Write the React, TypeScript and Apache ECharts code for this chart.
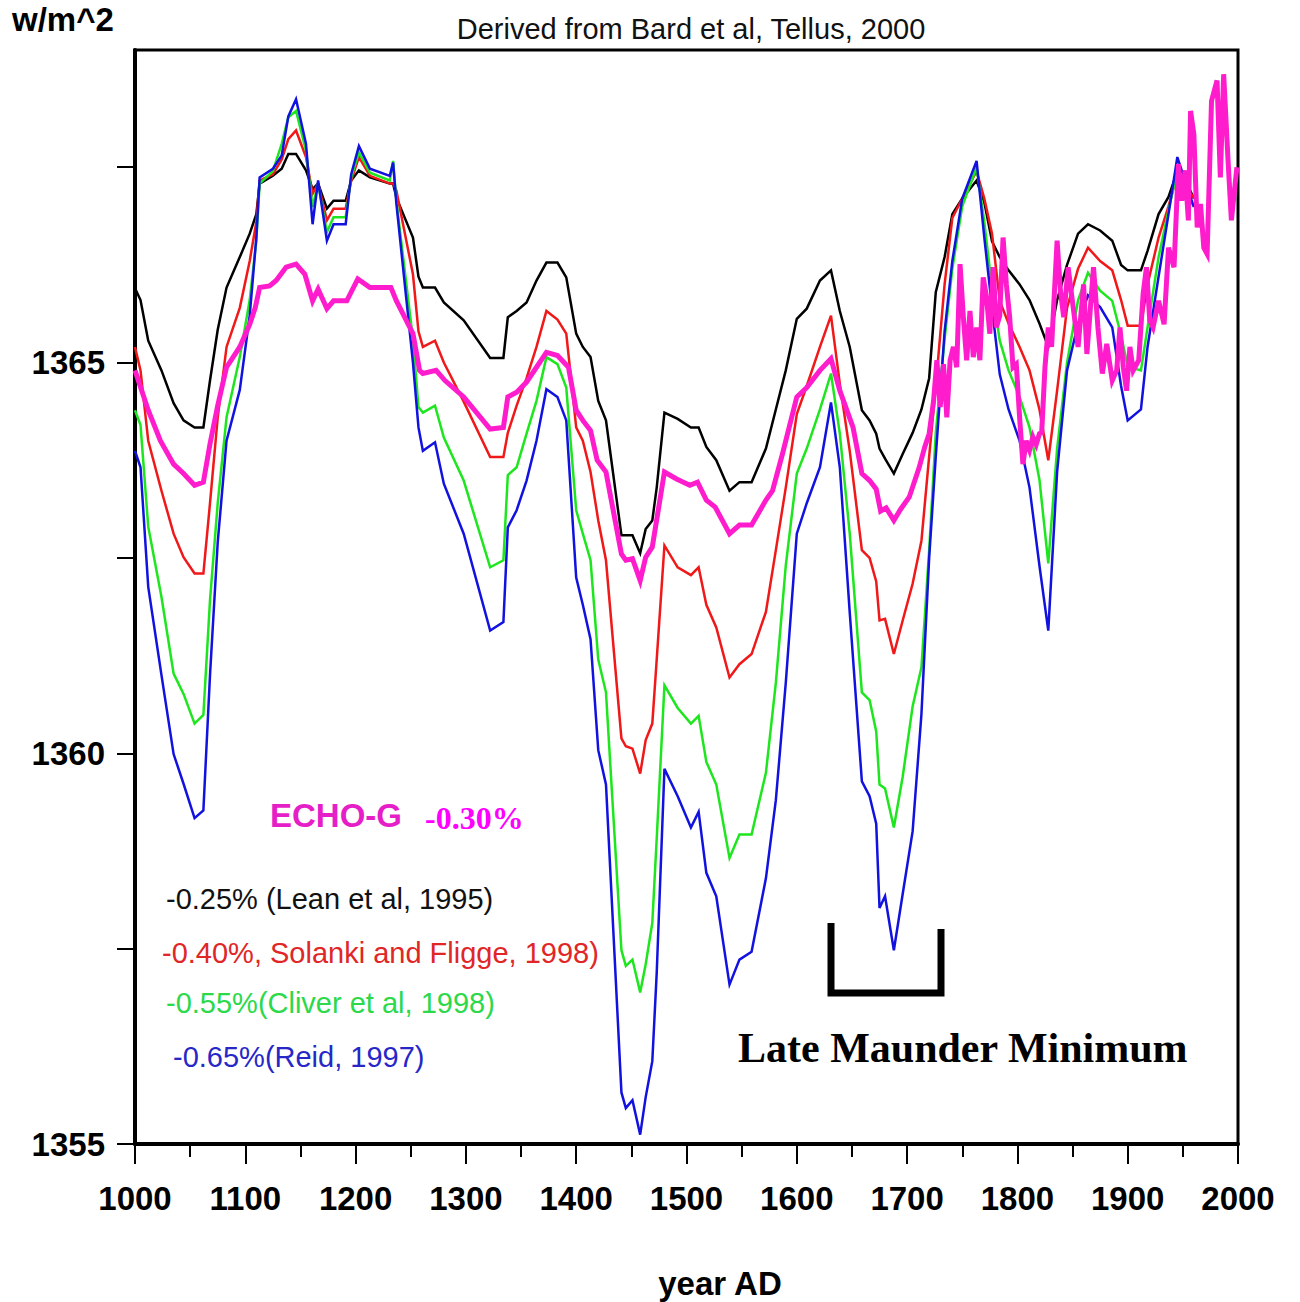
import React, { useEffect, useRef } from "react";
import * as echarts from "echarts";

// ---- Data ----
const proxyYears = [
  1000, 1005, 1012, 1024, 1035, 1044, 1054, 1062, 1068, 1075,
  1083, 1095, 1104, 1110, 1113, 1125, 1133, 1139, 1146, 1155,
  1161, 1166, 1174, 1180, 1191, 1196, 1203, 1213, 1231, 1234,
  1237, 1252, 1257, 1261, 1272, 1280, 1298, 1322, 1334, 1338,
  1346, 1355, 1364, 1373, 1383, 1391, 1400, 1406, 1413, 1420,
  1427, 1441, 1445, 1451, 1458, 1463, 1469, 1473, 1480, 1492,
  1504, 1511, 1518, 1527, 1539, 1548, 1559, 1572, 1581, 1590,
  1600, 1609, 1621, 1631, 1639, 1648, 1659, 1666, 1672, 1675,
  1680, 1688, 1696, 1705, 1713, 1720, 1726, 1734, 1741, 1750,
  1763, 1770, 1777, 1784, 1792, 1802, 1811, 1820, 1828, 1836,
  1845, 1855, 1864, 1875, 1886, 1894, 1900, 1912, 1918, 1928,
  1937, 1945, 1955, 1960,
];

// -0.25% (Lean et al, 1995) - black
const leanValues = [
  1365.95, 1365.8, 1365.28, 1364.9, 1364.48, 1364.26, 1364.17, 1364.17, 1364.77, 1365.42,
  1365.96, 1366.35, 1366.65, 1366.9, 1367.29, 1367.39, 1367.48, 1367.67, 1367.67, 1367.46,
  1367.22, 1367.29, 1366.97, 1367.07, 1367.07, 1367.33, 1367.46, 1367.37, 1367.29, 1367.29,
  1367.11, 1366.6, 1366.1, 1365.96, 1365.96, 1365.77, 1365.54, 1365.06, 1365.06, 1365.58,
  1365.66, 1365.77, 1366.05, 1366.28, 1366.28, 1366.09, 1365.37, 1365.2, 1365.07, 1364.51,
  1364.26, 1362.79, 1362.79, 1362.79, 1362.56, 1362.87, 1362.98, 1363.4, 1364.36, 1364.28,
  1364.17, 1364.17, 1363.92, 1363.75, 1363.36, 1363.47, 1363.47, 1363.9, 1364.4, 1364.9,
  1365.56, 1365.69, 1366.05, 1366.18, 1365.66, 1365.2, 1364.39, 1364.26, 1364.09, 1363.9,
  1363.77, 1363.58, 1363.83, 1364.1, 1364.4, 1364.8, 1365.9, 1366.35, 1366.9, 1367.1,
  1367.33, 1367.05, 1366.55, 1366.35, 1366.18, 1366.0, 1365.8, 1365.5, 1365.2, 1365.8,
  1366.25, 1366.65, 1366.77, 1366.69, 1366.56, 1366.25, 1366.18, 1366.18, 1366.43, 1366.9,
  1367.12, 1367.45, 1367.25, 1367.1,
];

// -0.40% (Solanki and Fligge, 1998) - red
const solankiValues = [
  1365.2, 1364.9, 1364.0, 1363.36, 1362.81, 1362.51, 1362.3, 1362.3, 1363.2, 1364.3,
  1365.2, 1365.7, 1366.3, 1366.8, 1367.33, 1367.41, 1367.6, 1367.86, 1367.97, 1367.63,
  1367.16, 1367.29, 1366.82, 1366.97, 1366.97, 1367.33, 1367.63, 1367.39, 1367.29, 1367.29,
  1367.2, 1366.13, 1365.4, 1365.2, 1365.28, 1365.0, 1364.5, 1363.79, 1363.79, 1364.1,
  1364.45, 1364.8, 1365.2, 1365.66, 1365.55, 1365.37, 1364.17, 1364.0, 1363.6, 1362.98,
  1362.47, 1360.19, 1360.09, 1360.06, 1359.74, 1360.17, 1360.38, 1361.2, 1362.66, 1362.38,
  1362.28, 1362.38, 1361.9, 1361.61, 1360.97, 1361.14, 1361.27, 1361.81, 1362.6, 1363.4,
  1364.34, 1364.7, 1365.2, 1365.6, 1364.73, 1363.87, 1362.6, 1362.5, 1362.2, 1361.7,
  1361.72, 1361.27, 1361.7, 1362.17, 1362.72, 1363.8, 1364.7, 1366.0, 1366.85, 1367.1,
  1367.45, 1367.1, 1366.65, 1365.79, 1365.5, 1365.2, 1364.9, 1364.4, 1363.75, 1364.64,
  1365.7, 1366.2, 1366.47, 1366.3, 1366.18, 1365.8, 1365.47, 1365.47, 1366.0, 1366.6,
  1367.0, 1367.41, 1367.2, 1367.11,
];

// -0.55% (Cliver et al, 1998) - green
const cliverValues = [
  1364.39, 1364.2, 1362.9, 1362.0, 1361.02, 1360.76, 1360.38, 1360.49, 1361.96, 1363.2,
  1364.3, 1365.07, 1365.8, 1366.56, 1367.29, 1367.45, 1367.8, 1368.14, 1368.22, 1367.71,
  1366.99, 1367.29, 1366.67, 1366.86, 1366.86, 1367.37, 1367.69, 1367.43, 1367.33, 1367.58,
  1367.07, 1365.3, 1364.43, 1364.36, 1364.45, 1364.04, 1363.49, 1362.38, 1362.47, 1363.56,
  1363.66, 1364.09, 1364.51, 1365.07, 1364.98, 1364.68, 1363.11, 1362.81, 1362.47, 1361.2,
  1360.78, 1357.48, 1357.28, 1357.36, 1356.94, 1357.3, 1357.83, 1358.91, 1360.87, 1360.58,
  1360.38, 1360.48, 1359.89, 1359.6, 1358.66, 1358.96, 1358.96, 1359.75, 1360.9, 1362.4,
  1363.58, 1363.9, 1364.4, 1364.86, 1364.09, 1362.81, 1360.78, 1360.68, 1360.28, 1359.6,
  1359.55, 1359.05, 1359.7, 1360.6, 1361.1, 1362.6, 1364.1, 1365.3, 1366.2, 1367.0,
  1367.5, 1366.8, 1365.95, 1365.28, 1364.9, 1364.56, 1364.17, 1363.5, 1362.43, 1363.9,
  1365.0, 1365.8, 1366.15, 1365.92, 1365.79, 1365.35, 1364.95, 1364.9, 1365.45, 1366.35,
  1366.95, 1367.45, 1367.1, 1367.0,
];

// -0.65% (Reid, 1997) - blue
const reidValues = [
  1363.87, 1363.66, 1362.13, 1361.0, 1359.99, 1359.61, 1359.17, 1359.27, 1361.0, 1362.7,
  1364.0, 1364.65, 1365.6, 1366.6, 1367.37, 1367.48, 1367.65, 1368.15, 1368.37, 1367.8,
  1366.77, 1367.33, 1366.56, 1366.77, 1366.77, 1367.41, 1367.77, 1367.48, 1367.39, 1367.56,
  1367.03, 1365.0, 1364.17, 1363.87, 1363.98, 1363.45, 1362.81, 1361.57, 1361.68, 1362.89,
  1363.11, 1363.49, 1364.0, 1364.66, 1364.56, 1364.26, 1362.25, 1361.9, 1361.46, 1360.04,
  1359.6, 1355.66, 1355.46, 1355.56, 1355.12, 1355.6, 1356.06, 1357.19, 1359.8, 1359.45,
  1359.05, 1359.25, 1358.47, 1358.17, 1357.04, 1357.36, 1357.46, 1358.4, 1359.4, 1360.9,
  1362.81, 1363.2, 1363.66, 1364.49, 1363.66, 1361.8, 1359.64, 1359.45, 1359.1, 1358.02,
  1358.17, 1357.48, 1358.2, 1359.0, 1360.5, 1362.5, 1363.8, 1365.4, 1366.3, 1367.1,
  1367.58, 1366.6, 1365.7, 1364.85, 1364.4, 1364.0, 1363.4, 1362.4, 1361.57, 1363.6,
  1364.9, 1365.5, 1365.86, 1365.71, 1365.45, 1364.7, 1364.26, 1364.4, 1365.2, 1366.1,
  1366.9, 1367.63, 1367.2, 1366.99,
];

// ECHO-G forcing (-0.30%) - magenta
const echoG: [number, number][] = [
  [1000, 1364.9], [1012, 1364.39], [1023, 1364.0], [1035, 1363.7], [1044, 1363.58],
  [1054, 1363.43], [1062, 1363.47], [1068, 1363.96], [1075, 1364.45], [1083, 1364.94],
  [1095, 1365.2], [1104, 1365.49], [1109, 1365.7], [1113, 1365.96], [1122, 1365.98],
  [1128, 1366.05], [1137, 1366.22], [1146, 1366.26], [1154, 1366.13], [1161, 1365.79],
  [1166, 1365.94], [1174, 1365.69], [1180, 1365.79], [1192, 1365.79], [1202, 1366.07],
  [1213, 1365.96], [1232, 1365.96], [1237, 1365.79], [1252, 1365.37], [1258, 1364.9],
  [1261, 1364.86], [1273, 1364.9], [1281, 1364.77], [1298, 1364.56], [1322, 1364.15],
  [1334, 1364.17], [1338, 1364.56], [1346, 1364.62], [1355, 1364.75], [1364, 1364.94],
  [1373, 1365.13], [1383, 1365.09], [1393, 1364.94], [1400, 1364.39], [1406, 1364.26],
  [1413, 1364.13], [1419, 1363.75], [1427, 1363.6], [1441, 1362.55], [1445, 1362.47],
  [1451, 1362.49], [1458, 1362.21], [1463, 1362.51], [1469, 1362.64], [1480, 1363.6],
  [1491, 1363.51], [1503, 1363.43], [1510, 1363.47], [1518, 1363.24], [1526, 1363.15],
  [1539, 1362.81], [1548, 1362.92], [1559, 1362.92], [1572, 1363.24], [1578, 1363.36],
  [1587, 1363.83], [1600, 1364.56], [1609, 1364.68], [1621, 1364.9], [1631, 1365.05],
  [1639, 1364.64], [1651, 1364.17], [1659, 1363.58], [1666, 1363.49], [1672, 1363.38],
  [1676, 1363.1], [1681, 1363.14], [1688, 1362.98], [1694, 1363.12], [1702, 1363.28],
  [1711, 1363.66], [1716, 1363.92], [1720, 1364.09], [1724, 1364.51], [1727, 1365.03],
  [1730, 1364.43], [1733, 1364.98], [1736, 1364.3], [1739, 1365.03], [1742, 1365.2],
  [1745, 1364.94], [1748, 1366.26], [1751, 1365.58], [1754, 1365.03], [1757, 1365.66],
  [1760, 1365.07], [1763, 1365.45], [1766, 1365.03], [1769, 1366.09], [1772, 1365.84],
  [1775, 1365.37], [1778, 1366.22], [1781, 1365.45], [1784, 1365.6], [1787, 1366.6],
  [1790, 1366.0], [1793, 1365.58], [1796, 1364.94], [1799, 1364.98], [1802, 1364.3],
  [1805, 1363.7], [1808, 1364.0], [1811, 1363.88], [1814, 1364.05], [1817, 1363.95],
  [1820, 1364.09], [1822, 1364.1], [1825, 1364.94], [1828, 1365.45], [1831, 1365.2],
  [1836, 1366.56], [1839, 1365.92], [1842, 1365.58], [1846, 1366.22], [1851, 1365.66],
  [1855, 1365.2], [1860, 1366.0], [1863, 1365.11], [1869, 1366.22], [1873, 1365.45],
  [1877, 1364.86], [1881, 1365.24], [1886, 1364.77], [1890, 1364.9], [1893, 1365.45],
  [1896, 1364.94], [1899, 1364.64], [1902, 1365.2], [1905, 1364.9], [1910, 1365.03],
  [1914, 1365.88], [1917, 1366.22], [1920, 1365.54], [1923, 1365.45], [1928, 1365.79],
  [1933, 1365.49], [1937, 1366.47], [1942, 1366.22], [1946, 1367.54], [1949, 1367.07],
  [1952, 1367.46], [1955, 1366.82], [1957, 1368.22], [1960, 1367.92], [1963, 1366.73],
  [1966, 1367.03], [1969, 1366.47], [1972, 1366.39], [1976, 1368.35], [1981, 1368.61],
  [1984, 1367.37], [1987, 1368.69], [1991, 1367.58], [1994, 1366.82], [1999, 1367.5],
];

const xTickYears = { min: 1000, max: 2000, step: 100 };
const yRange = { min: 1355, max: 1369, step: 2.5 };

const legendLines = [
  { text: "-0.25% (Lean et al, 1995)", color: "#111111" },
  { text: "-0.40%, Solanki and Fligge, 1998)", color: "#e02626" },
  { text: "-0.55%(Cliver et al, 1998)", color: "#2bd94a" },
  { text: "-0.65%(Reid, 1997)", color: "#2727c8" },
];

const SANS = "'Liberation Sans', Arial, Helvetica, sans-serif";
const SERIF = "'Liberation Serif', 'Times New Roman', serif";

export default function App() {
  const ref = useRef<HTMLDivElement>(null);

  useEffect(() => {
    if (!ref.current) return;
    const chart = echarts.init(ref.current, null, { renderer: "svg" });
    const zip = (ys: number[], vs: number[]) => ys.map((y, i) => [y, vs[i]]);

    const lineSeries = (name: string, data: any[], color: string, width: number, z: number) => ({
      name,
      type: "line",
      data,
      showSymbol: false,
      symbol: "none",
      silent: true,
      z,
      lineStyle: { color, width, join: "miter" },
      itemStyle: { color },
    });

    const legendX = [166, 162, 166, 173];
    const legendY = [899, 953, 1003, 1057];

    const option: any = {
      animation: false,
      backgroundColor: "#ffffff",
      grid: {
        left: 135,
        top: 50,
        width: 1103,
        height: 1094,
        show: true,
        borderColor: "#000",
        borderWidth: 3,
        backgroundColor: "transparent",
      },
      xAxis: {
        type: "value",
        min: xTickYears.min,
        max: xTickYears.max,
        interval: xTickYears.step,
        axisLine: { show: true, onZero: false, lineStyle: { color: "#000", width: 4 } },
        axisTick: { show: true, length: 20, lineStyle: { color: "#000", width: 2 } },
        minorTick: { show: true, splitNumber: 2, length: 13, lineStyle: { color: "#000", width: 2 } },
        splitLine: { show: false },
        axisLabel: {
          color: "#000",
          fontFamily: SANS,
          fontWeight: "bold",
          fontSize: 33,
          margin: 38,
          formatter: (v: number) => String(v),
        },
      },
      yAxis: {
        type: "value",
        min: yRange.min,
        max: yRange.max,
        interval: yRange.step,
        axisLine: { show: true, onZero: false, lineStyle: { color: "#000", width: 4 } },
        axisTick: { show: true, length: 18, lineStyle: { color: "#000", width: 2 } },
        splitLine: { show: false },
        axisLabel: {
          color: "#000",
          fontFamily: SANS,
          fontWeight: "bold",
          fontSize: 33,
          margin: 30,
          formatter: (v: number) => (Math.abs(v % 5) < 1e-9 ? String(v) : ""),
        },
      },
      series: [
        lineSeries("Lean", zip(proxyYears, leanValues), "#000000", 2.5, 2),
        lineSeries("Solanki", zip(proxyYears, solankiValues), "#f01818", 2.5, 3),
        lineSeries("Cliver", zip(proxyYears, cliverValues), "#1ee61e", 2.5, 4),
        lineSeries("Reid", zip(proxyYears, reidValues), "#1212e0", 2.5, 5),
        lineSeries("ECHO-G", echoG, "#ff1ccc", 5, 6),
      ],
      graphic: [
        {
          type: "rect",
          z: 100,
          shape: { x: 110, y: 44, width: 23, height: 10 },
          style: { fill: "#fff" },
        },
        {
          type: "text",
          left: 12,
          top: 3,
          style: { text: "w/m^2", font: `bold 33px ${SANS}`, fill: "#000" },
        },
        {
          type: "text",
          x: 691,
          y: 29,
          style: {
            text: "Derived from Bard et al, Tellus, 2000",
            font: `29px ${SANS}`,
            fill: "#111",
            align: "center",
            verticalAlign: "middle",
          },
        },
        {
          type: "text",
          x: 720,
          y: 1283,
          style: {
            text: "year AD",
            font: `bold 33px ${SANS}`,
            fill: "#000",
            align: "center",
            verticalAlign: "middle",
          },
        },
        {
          type: "text",
          x: 270,
          y: 815,
          z: 10,
          style: {
            text: "ECHO-G",
            font: `bold 33px ${SANS}`,
            fill: "#e61ec8",
            align: "left",
            verticalAlign: "middle",
          },
        },
        {
          type: "text",
          x: 425,
          y: 818,
          z: 10,
          style: {
            text: "-0.30%",
            font: `bold 32px ${SERIF}`,
            fill: "#ff00ff",
            align: "left",
            verticalAlign: "middle",
          },
        },
        ...legendLines.map((l, i) => ({
          type: "text",
          x: legendX[i],
          y: legendY[i],
          z: 10,
          style: {
            text: l.text,
            font: `29px ${SANS}`,
            fill: l.color,
            align: "left",
            verticalAlign: "middle",
          },
        })),
        {
          type: "polyline",
          z: 10,
          shape: { points: [[831, 923], [831, 993], [941, 993], [941, 929]] },
          style: { stroke: "#000", lineWidth: 7, fill: null, lineJoin: "miter", lineCap: "butt" },
        },
        {
          type: "text",
          x: 738,
          y: 1048,
          z: 10,
          style: {
            text: "Late Maunder Minimum",
            font: `bold 42px ${SERIF}`,
            fill: "#000",
            align: "left",
            verticalAlign: "middle",
          },
        },
      ],
    };

    chart.setOption(option);
    return () => chart.dispose();
  }, []);

  return (
    <div
      ref={ref}
      style={{ position: "fixed", left: 0, top: 0, width: 1300, height: 1302, background: "#fff" }}
    />
  );
}
